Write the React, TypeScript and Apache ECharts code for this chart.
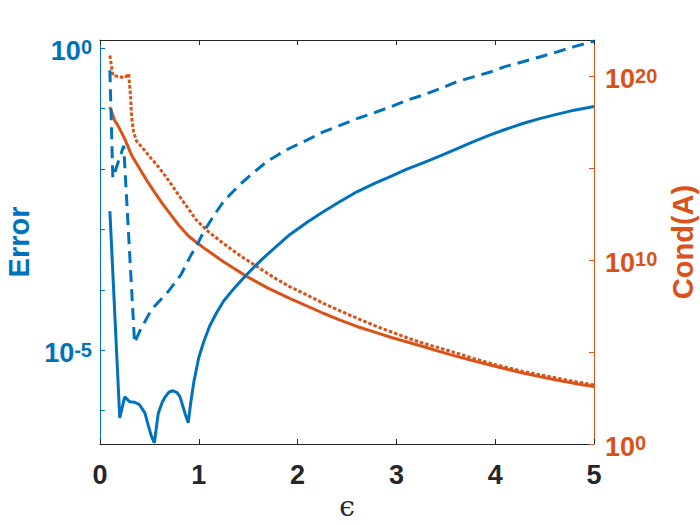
import { useEffect, useRef } from "react";
import * as echarts from "echarts";

// ---- data ----
// Error, solid (left axis), exponents of 10
const epsErrSolid = [0.1, 0.2, 0.25, 0.3, 0.35, 0.4, 0.455, 0.49, 0.52, 0.55, 0.59, 0.63, 0.66, 0.7, 0.74, 0.78, 0.81, 0.86, 0.893, 0.92, 0.95, 1.0, 1.05, 1.11, 1.18, 1.25, 1.35, 1.45, 1.55, 1.65, 1.78, 1.92, 2.1, 2.26, 2.43, 2.6, 2.78, 2.95, 3.1, 3.27, 3.45, 3.61, 3.78, 3.95, 4.1, 4.28, 4.45, 4.62, 4.8, 5.0];
const errSolidExp = [-2.7, -6.12, -5.77, -5.85, -5.86, -5.9, -6.04, -6.25, -6.42, -6.53, -6.04, -5.86, -5.77, -5.69, -5.67, -5.7, -5.77, -6.04, -6.2, -5.85, -5.52, -5.12, -4.86, -4.6, -4.38, -4.19, -3.99, -3.81, -3.64, -3.48, -3.29, -3.09, -2.88, -2.71, -2.54, -2.38, -2.24, -2.12, -2.01, -1.9, -1.78, -1.67, -1.55, -1.44, -1.35, -1.25, -1.17, -1.1, -1.03, -0.97];

// Error, dashed (left axis)
const epsErrDashed = [0.1, 0.13, 0.24, 0.35, 0.4, 0.52, 0.69, 0.82, 0.91, 1.0, 1.05, 1.15, 1.25, 1.35, 1.45, 1.57, 1.69, 1.8, 1.92, 2.1, 2.26, 2.43, 2.6, 2.78, 2.95, 3.1, 3.27, 3.45, 3.61, 3.78, 3.95, 4.1, 4.28, 4.45, 4.62, 4.8, 5.0];
const errDashedExp = [-0.37, -2.15, -1.62, -4.88, -4.69, -4.33, -4.03, -3.75, -3.46, -3.2, -3.04, -2.78, -2.54, -2.37, -2.21, -2.04, -1.88, -1.77, -1.66, -1.52, -1.39, -1.28, -1.17, -1.07, -0.97, -0.87, -0.78, -0.67, -0.56, -0.48, -0.4, -0.31, -0.23, -0.15, -0.07, 0.02, 0.11];

// Cond(A), solid (right axis)
const epsCondSolid = [0.1, 0.15, 0.18, 0.25, 0.32, 0.42, 0.48, 0.55, 0.63, 0.72, 0.8, 0.9, 1.07, 1.25, 1.49, 1.7, 1.92, 2.26, 2.43, 2.6, 2.78, 2.95, 3.27, 3.44, 3.61, 3.8, 4.01, 4.28, 4.45, 4.62, 4.8, 5.0];
const condSolidExp = [18.35, 17.6, 17.35, 16.63, 15.72, 14.82, 14.3, 13.73, 13.1, 12.46, 11.9, 11.3, 10.6, 9.93, 9.11, 8.49, 7.93, 7.12, 6.75, 6.4, 6.09, 5.8, 5.31, 5.03, 4.77, 4.5, 4.22, 3.86, 3.67, 3.49, 3.3, 3.13];

// Cond(A), dotted (right axis)
const epsCondDotted = [0.1, 0.13, 0.2, 0.25, 0.29, 0.31, 0.32, 0.34, 0.37, 0.45, 0.52, 0.59, 0.655, 0.74, 0.82, 0.9, 0.975, 1.1, 1.25, 1.42, 1.59, 1.75, 1.92, 2.1, 2.26, 2.43, 2.6, 2.78, 2.95, 3.1, 3.27, 3.44, 3.61, 3.8, 4.01, 4.28, 4.45, 4.62, 4.8, 5.0];
const condDottedExp = [21.16, 20.07, 20.0, 19.93, 20.16, 18.9, 17.8, 17.0, 16.5, 16.0, 15.54, 15.1, 14.64, 14.0, 13.37, 12.77, 12.19, 11.55, 10.92, 10.25, 9.66, 9.1, 8.57, 8.1, 7.66, 7.25, 6.85, 6.45, 6.1, 5.8, 5.49, 5.22, 4.95, 4.62, 4.31, 3.95, 3.77, 3.59, 3.4, 3.22];

// axis ticks / labels
const xTicks = [0, 1, 2, 3, 4, 5];
const leftTickExp = [-6, -5, -4, -3, -2, -1, 0];
const leftLabelExp = [-5, 0];
const rightTickExp = [0, 5, 10, 15, 20];
const rightLabelExp = [0, 10, 20];

const BLUE = "#0072BD";
const ORANGE = "#D95319";
const DARK = "#262626";
const FONT = "'Liberation Sans', Arial, sans-serif";

const pairs = (xs: number[], es: number[]) => xs.map((x, i) => [x, Math.pow(10, es[i])]);
const pow10 = (es: number[]) => es.map((e) => Math.pow(10, e));

const richFor = (color: string) => ({
  b: { fontSize: 27, fontWeight: "bold", fontFamily: FONT, color, lineHeight: 27, padding: [9, 0, 0, 0], verticalAlign: "bottom" },
  s: { fontSize: 20, fontWeight: "bold", fontFamily: FONT, color, lineHeight: 20, verticalAlign: "top" },
});
const powLabel = (v: number) => `{b|10}{s|${Math.round(Math.log10(v))}}`;

export default function App() {
  const ref = useRef<HTMLDivElement>(null);
  useEffect(() => {
    if (!ref.current) return;
    const chart = echarts.init(ref.current, undefined, { renderer: "svg" });
    chart.setOption({
      animation: false,
      backgroundColor: "#ffffff",
      grid: { left: 100, right: 106, top: 40, bottom: 81, containLabel: false, outerBoundsMode: "none" },
      xAxis: [
        {
          type: "value",
          min: 0,
          max: 5,
          interval: 1,
          position: "bottom",
          name: "ϵ",
          nameLocation: "middle",
          nameGap: 48,
          nameTextStyle: { fontSize: 28, fontFamily: "'DejaVu Serif', serif", color: DARK },
          axisLine: { onZero: false, lineStyle: { color: DARK, width: 1 } },
          axisTick: { inside: true, length: 5, lineStyle: { color: DARK } },
          axisLabel: {
            fontSize: 27,
            fontWeight: "bold",
            fontFamily: FONT,
            color: DARK,
            margin: 17,
            customValues: xTicks,
          },
          splitLine: { show: false },
        },
        {
          type: "value",
          min: 0,
          max: 5,
          interval: 1,
          position: "top",
          axisLine: { onZero: false, lineStyle: { color: DARK, width: 1 } },
          axisTick: { inside: true, length: 5, lineStyle: { color: DARK } },
          axisLabel: { show: false },
          splitLine: { show: false },
        },
      ],
      yAxis: [
        {
          type: "log",
          logBase: 10,
          min: Math.pow(10, -6.55),
          max: Math.pow(10, 0.13),
          position: "left",
          name: "Error",
          nameLocation: "middle",
          nameGap: 64,
          nameTextStyle: { fontSize: 29, fontWeight: "bold", fontFamily: FONT, color: BLUE },
          axisLine: { show: true, onZero: false, lineStyle: { color: BLUE, width: 1 } },
          axisTick: { show: true, inside: true, length: 5, lineStyle: { color: BLUE }, customValues: pow10(leftTickExp) },
          axisLabel: {
            margin: 8,
            padding: [6, 0, 0, 0],
            customValues: pow10(leftLabelExp),
            formatter: powLabel,
            rich: richFor(BLUE),
          },
          splitLine: { show: false },
        },
        {
          type: "log",
          logBase: 10,
          min: 1,
          max: 1e22,
          position: "right",
          name: "Cond(A)",
          nameLocation: "middle",
          nameGap: 71,
          nameTextStyle: { fontSize: 29, fontWeight: "bold", fontFamily: FONT, color: ORANGE },
          axisLine: { show: true, onZero: false, lineStyle: { color: ORANGE, width: 1 } },
          axisTick: { show: true, inside: true, length: 5, lineStyle: { color: ORANGE }, customValues: pow10(rightTickExp) },
          axisLabel: {
            margin: 11,
            padding: [5, 0, 0, 0],
            customValues: pow10(rightLabelExp),
            formatter: powLabel,
            rich: richFor(ORANGE),
          },
          splitLine: { show: false },
        },
      ],
      series: [
        {
          type: "line",
          yAxisIndex: 1,
          data: pairs(epsCondSolid, condSolidExp),
          showSymbol: false,
          lineStyle: { color: ORANGE, width: 3 },
          z: 2,
        },
        {
          type: "line",
          yAxisIndex: 1,
          data: pairs(epsCondDotted, condDottedExp),
          showSymbol: false,
          lineStyle: { color: ORANGE, width: 3, type: [3.5, 2], cap: "butt" },
          z: 2,
        },
        {
          type: "line",
          yAxisIndex: 0,
          data: pairs(epsErrSolid, errSolidExp),
          showSymbol: false,
          lineStyle: { color: BLUE, width: 3 },
          z: 3,
        },
        {
          type: "line",
          yAxisIndex: 0,
          data: pairs(epsErrDashed, errDashedExp),
          showSymbol: false,
          lineStyle: { color: BLUE, width: 3, type: [12, 7] },
          z: 3,
        },
      ],
    });
    return () => chart.dispose();
  }, []);
  return <div ref={ref} style={{ width: 700, height: 525, position: "absolute", left: 0, top: 0 }} />;
}
